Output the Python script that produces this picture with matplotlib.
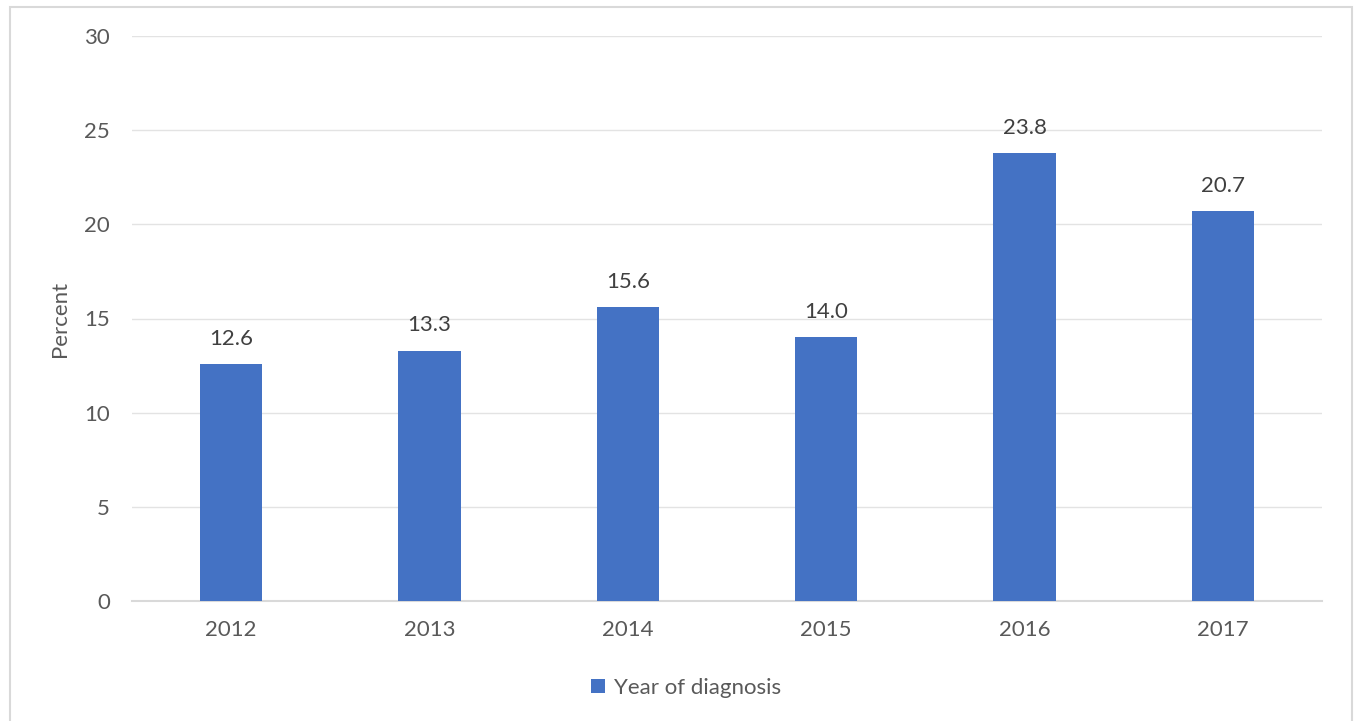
import matplotlib.pyplot as plt
from matplotlib.patches import Rectangle

years = ['2012', '2013', '2014', '2015', '2016', '2017']
percent = [12.6, 13.3, 15.6, 14.0, 23.8, 20.7]
series_name = 'Year of diagnosis'

plt.rcParams['font.family'] = ['Lato', 'DejaVu Sans']
text_col = '#595959'
bar_col = '#4472C4'
fs = 16

W, H = 1354, 721
fig = plt.figure(figsize=(W / 100, H / 100), dpi=100)
ax = fig.add_axes([132 / W, 1 - 601 / H, (1322 - 132) / W, (601 - 36) / H])

x = range(len(years))
bars = ax.bar(x, percent, width=0.315, color=bar_col, label=series_name, zorder=3)
for xi, v in zip(x, percent):
    ax.text(xi, v + 0.8, '{:.1f}'.format(v), ha='center', va='bottom',
            fontsize=fs, color='#404040')

ax.set_xlim(-0.5, len(years) - 0.5)
ax.set_ylim(0, 30)
ax.set_yticks(range(0, 31, 5))
ax.set_xticks(list(x))
ax.set_xticklabels(years)
ax.tick_params(axis='both', length=0, labelsize=fs, colors=text_col)
ax.tick_params(axis='y', pad=16)
ax.tick_params(axis='x', pad=14)
ax.grid(axis='y', color='#E3E3E3', linewidth=1, zorder=0)
for s in ['top', 'right', 'left']:
    ax.spines[s].set_visible(False)
ax.spines['bottom'].set_color('#D9D9D9')
ax.spines['bottom'].set_linewidth(1.5)
ax.set_ylabel('Percent', fontsize=fs, color=text_col, labelpad=10)

leg = fig.legend(handles=[bars], labels=[series_name], loc='center',
                 bbox_to_anchor=(686 / W, 1 - 688 / H), frameon=False,
                 fontsize=fs, handlelength=0.6, handleheight=0.6,
                 handletextpad=0.4)
for t in leg.get_texts():
    t.set_color(text_col)

# outer chart frame
fig.patches.append(Rectangle((10 / W, -0.01), (1352 - 10) / W, 1 - 7 / H + 0.01,
                             transform=fig.transFigure, fill=False,
                             edgecolor='#D9D9D9', linewidth=1.5))

fig.savefig('out.png', dpi=100)
